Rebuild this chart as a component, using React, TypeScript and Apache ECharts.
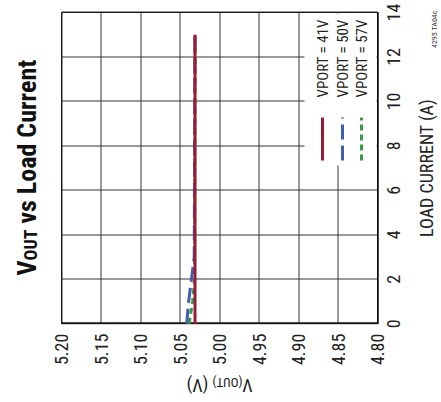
import React, { useEffect, useRef } from 'react';
import * as echarts from 'echarts';

const FONT = "'Liberation Sans Narrow', 'Arial Narrow', 'Roboto Condensed', 'Liberation Sans', sans-serif";

const currentTicks = [0, 2, 4, 6, 8, 10, 12, 14];
const voutTicks = ['4.80', '4.85', '4.90', '4.95', '5.00', '5.05', '5.10', '5.15', '5.20'];

const seriesNames = ['VPORT = 41V', 'VPORT = 50V', 'VPORT = 57V'];
const seriesColors = ['#9b1b33', '#3f5fae', '#3a9a4c'];

const current41 = [0, 13];
const vout41 = [5.031, 5.031];
const current50 = [0, 1, 2, 3, 13];
const vout50 = [5.0415, 5.039, 5.0355, 5.032, 5.031];
const current57 = [0, 1, 2, 13];
const vout57 = [5.0385, 5.034, 5.0315, 5.031];

const pairs = (xs: number[], ys: number[]) => xs.map((x, i) => [x, ys[i]]);

export default function App() {
  const ref = useRef<HTMLDivElement>(null);
  useEffect(() => {
    const chart = echarts.init(ref.current!, null, { renderer: 'svg' });
    const legendRows = [322, 342, 361];
    const dashes: any[] = ['solid', [15, 6], [6, 4]];
    const legendGraphics: any[] = [
      { type: 'rect', z: 50, shape: { x: 237, y: 304, width: 152, height: 72 }, style: { fill: '#fff' } },
    ];
    seriesNames.forEach((n, i) => {
      legendGraphics.push({
        type: 'line', z: 51,
        shape: { x1: 242, y1: legendRows[i], x2: 285, y2: legendRows[i] },
        style: { stroke: seriesColors[i], lineWidth: 3, lineDash: dashes[i] === 'solid' ? null : dashes[i] },
      });
      legendGraphics.push({
        type: 'text', z: 51, x: 305, y: legendRows[i],
        style: { text: n, fontSize: 15, fontFamily: FONT, fill: '#222', verticalAlign: 'middle', align: 'left' },
      });
    });
    legendGraphics.push({
      type: 'text', z: 51, x: 392, y: 438,
      style: { text: '4295 TA04c', fontSize: 8, fontFamily: FONT, fill: '#333', verticalAlign: 'bottom', align: 'right' },
    });
    const option: any = {
      animation: false,
      backgroundColor: '#fff',
      title: {
        text: '{v|V}{sub|OUT}{v| vs Load Current}',
        left: 122,
        top: 8,
        textStyle: {
          rich: {
            v: { fontSize: 26, fontWeight: 'bold', fontFamily: FONT, color: '#111' },
            sub: { fontSize: 18, fontWeight: 'bold', fontFamily: FONT, color: '#111', padding: [8, 0, 0, 0] },
          },
        },
      },
      grid: { left: 74, right: 12, top: 61, bottom: 64, show: true, borderColor: '#000', borderWidth: 1 },
      xAxis: {
        type: 'value', min: 0, max: 14, interval: 2,
        axisLine: { show: true, lineStyle: { color: '#000', width: 1 } },
        axisTick: { show: false },
        splitLine: { show: true, lineStyle: { color: '#333', width: 1 } },
        axisLabel: { fontSize: 18, fontFamily: FONT, color: '#222', margin: 7,
          formatter: (v: number) => (currentTicks.includes(v) ? String(v) : '') },
        name: 'LOAD CURRENT (A)', nameLocation: 'middle', nameGap: 40,
        nameTextStyle: { fontSize: 18, fontFamily: FONT, color: '#222' },
      },
      yAxis: {
        type: 'value', min: 4.8, max: 5.2, interval: 0.05,
        axisLine: { show: true, lineStyle: { color: '#000', width: 1 } },
        axisTick: { show: false },
        splitLine: { show: true, lineStyle: { color: '#333', width: 1 } },
        axisLabel: { fontSize: 18, fontFamily: FONT, color: '#222', margin: 10,
          formatter: (v: number) => voutTicks.find((t) => Math.abs(parseFloat(t) - v) < 1e-6) || '' },
        name: '{v|V}{s|(OUT)}{v| (V)}', nameLocation: 'middle', nameGap: 50,
        nameTextStyle: {
          rich: {
            v: { fontSize: 18, fontFamily: FONT, color: '#222' },
            s: { fontSize: 13, fontFamily: FONT, color: '#222', padding: [6, 0, 0, 0] },
          },
        },
      },
      series: [
        { name: seriesNames[2], type: 'line', data: pairs(current57, vout57), showSymbol: false,
          lineStyle: { color: seriesColors[2], width: 3, type: [6, 4] }, z: 3 },
        { name: seriesNames[1], type: 'line', data: pairs(current50, vout50), showSymbol: false,
          lineStyle: { color: seriesColors[1], width: 3, type: [15, 6] }, z: 4 },
        { name: seriesNames[0], type: 'line', data: pairs(current41, vout41), showSymbol: false,
          lineStyle: { color: seriesColors[0], width: 3 }, z: 5 },
      ],
      graphic: legendGraphics,
    };
    chart.setOption(option);
    return () => chart.dispose();
  }, []);
  return (
    <div style={{ position: 'fixed', left: 0, top: 0, width: 441, height: 402, overflow: 'hidden', background: '#fff' }}>
      <div
        ref={ref}
        style={{ position: 'absolute', left: 19.5, top: -19.5, width: 402, height: 441, transform: 'rotate(-90deg)' }}
      />
    </div>
  );
}
